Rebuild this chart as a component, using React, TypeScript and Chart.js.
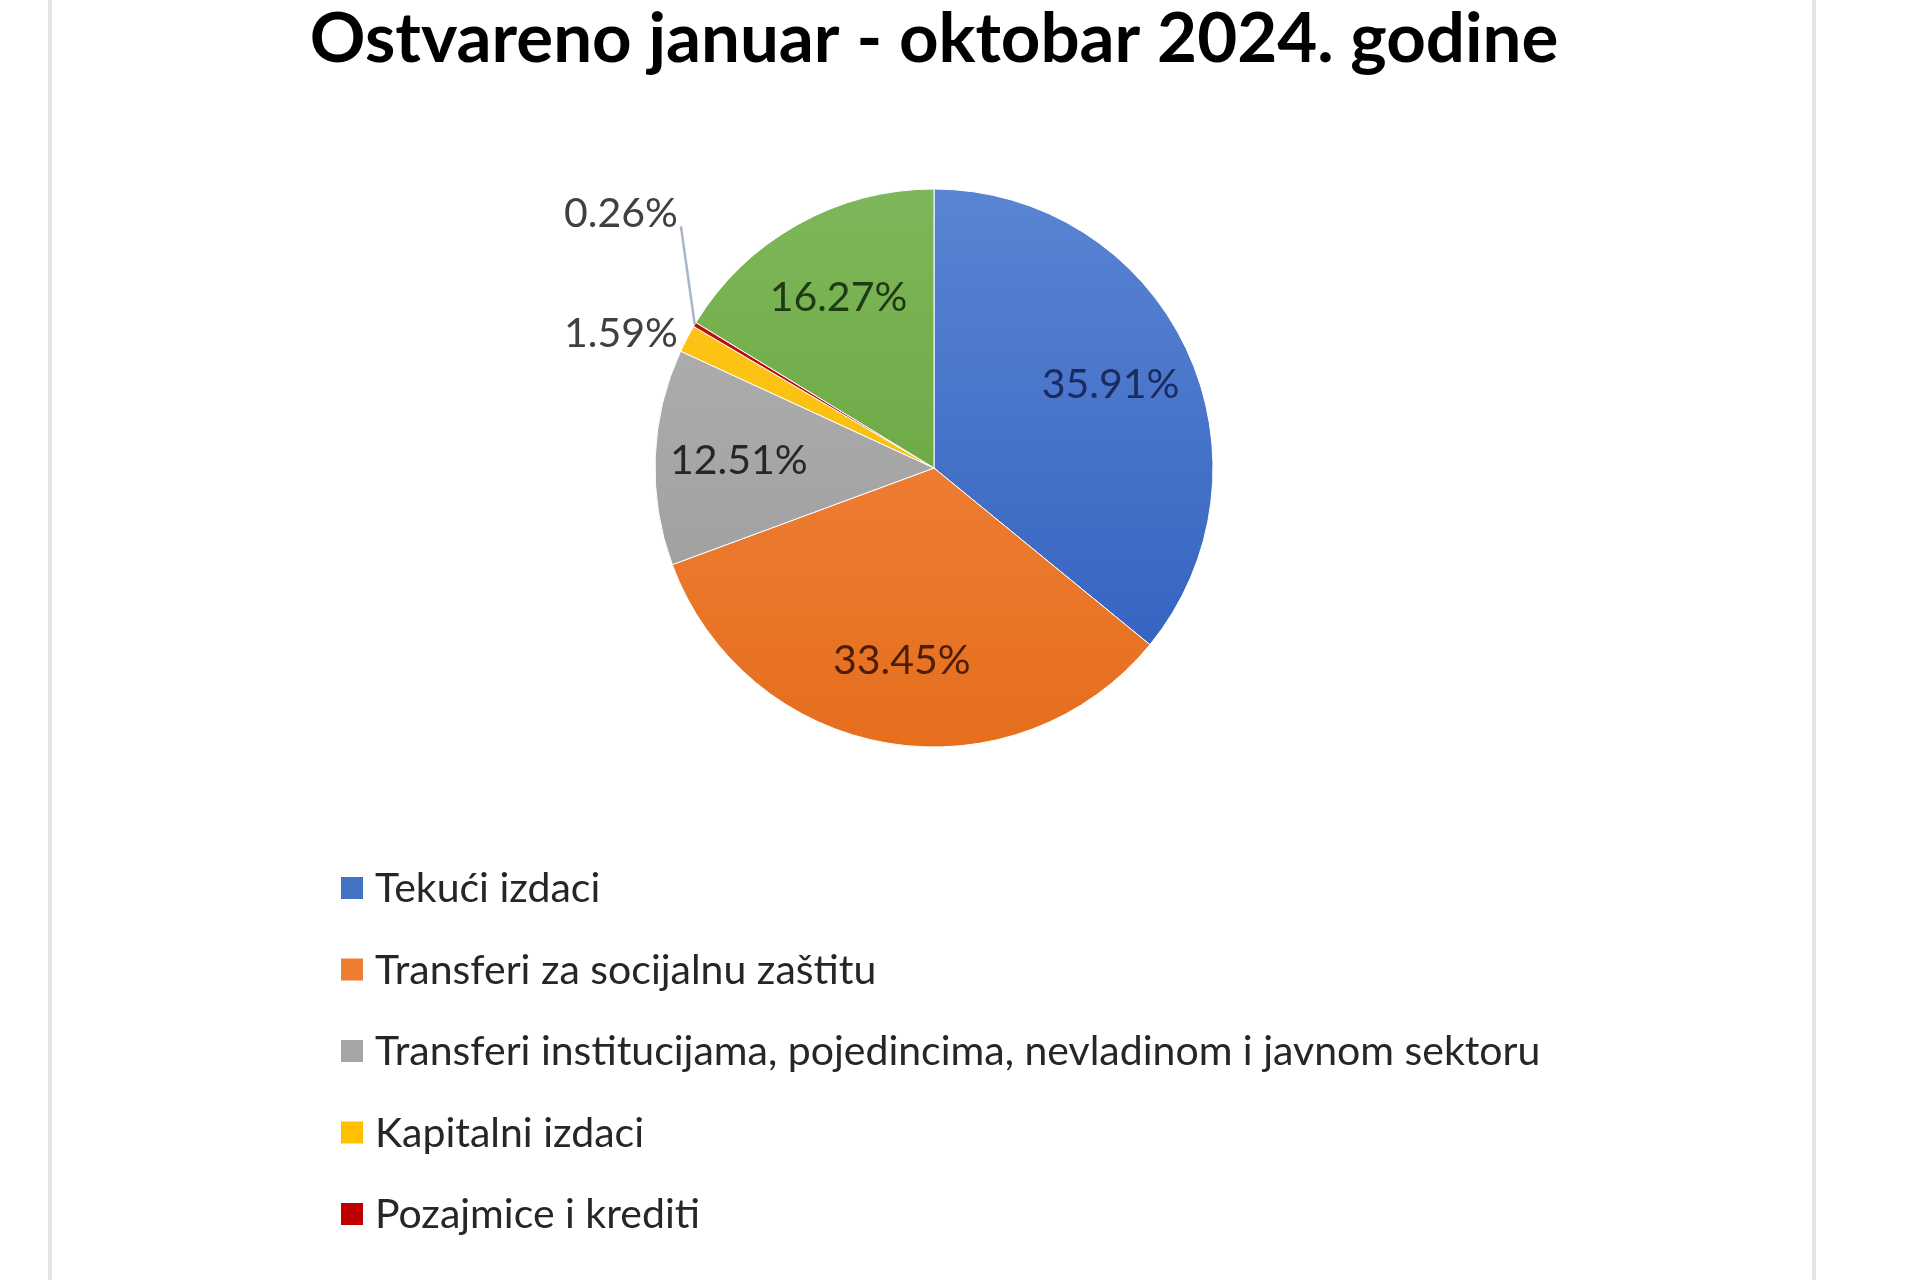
import React, { useEffect, useRef } from "react";
import { Chart, registerables } from "chart.js";

Chart.register(...registerables);

const TITLE = "Ostvareno januar - oktobar 2024. godine";

const categories = [
  "Tekući izdaci",
  "Transferi za socijalnu zaštitu",
  "Transferi institucijama, pojedincima, nevladinom i javnom sektoru",
  "Kapitalni izdaci",
  "Pozajmice i krediti",
  "Otplata duga",
];

const shares = [35.91, 33.45, 12.51, 1.59, 0.26, 16.27];

const sliceColors = ["#4472C4", "#ED7D31", "#A5A5A5", "#FFC000", "#C00000", "#70AD47"];
const sliceLight = ["#5A84D3", "#F38B47", "#B4B4B4", "#FFC81E", "#C81212", "#7EB75A"];
const sliceDark = ["#2E5DBD", "#E66E1D", "#989898", "#F5B700", "#A80000", "#5F9F33"];
const labelColors = ["#1B2B5E", "#4D1D06", "#262626", "#404040", "#404040", "#1E3A12"];

const FONT = "Lato, 'Open Sans', sans-serif";

const sliceLabels = {
  id: "sliceLabels",
  afterDatasetsDraw(chart: any, _args: any, opts: any) {
    const ctx = chart.ctx;
    const meta = chart.getDatasetMeta(0);
    const data = chart.data.datasets[0].data as number[];
    ctx.save();
    ctx.font = `${opts.size}px ${FONT}`;
    let prevOutside: { right: number; mid: number } | null = null;
    meta.data.forEach((arc: any, i: number) => {
      const p = arc.getProps(["x", "y", "startAngle", "endAngle", "outerRadius"], true);
      const mid = (p.startAngle + p.endAngle) / 2;
      const cos = Math.cos(mid);
      const sin = Math.sin(mid);
      const text = data[i].toFixed(2) + "%";
      ctx.fillStyle = labelColors[i];
      ctx.textBaseline = "middle";
      if (data[i] >= opts.minInside) {
        const r = p.outerRadius * opts.insideFrac;
        ctx.textAlign = "center";
        ctx.fillText(text, p.x + cos * r, p.y + sin * r);
      } else {
        const r = p.outerRadius + opts.outsideGap;
        let lx = p.x + cos * r;
        let ly = p.y + sin * r;
        ctx.textAlign = "right";
        if (prevOutside && Math.abs(prevOutside.mid - ly) < opts.size * 1.2) {
          lx = prevOutside.right;
          ly = prevOutside.mid - opts.stackStep;
          const ex = p.x + cos * p.outerRadius;
          const ey = p.y + sin * p.outerRadius;
          ctx.strokeStyle = opts.leaderColor;
          ctx.lineWidth = 2.5;
          ctx.beginPath();
          ctx.moveTo(ex, ey);
          ctx.lineTo(lx + 3, ly + opts.size * 0.3);
          ctx.stroke();
        }
        ctx.fillText(text, lx, ly);
        prevOutside = { right: lx, mid: ly };
      }
    });
    ctx.restore();
  },
};

const listLegend = {
  id: "listLegend",
  afterDraw(chart: any, _args: any, opts: any) {
    const ctx = chart.ctx;
    const labels = chart.data.labels as string[];
    ctx.save();
    ctx.font = `${opts.size}px ${FONT}`;
    ctx.textAlign = "left";
    ctx.textBaseline = "middle";
    labels.forEach((label, i) => {
      const cy = opts.top + i * opts.step;
      ctx.fillStyle = sliceColors[i];
      ctx.fillRect(opts.left, cy - opts.box / 2, opts.box, opts.box);
      ctx.fillStyle = opts.color;
      ctx.fillText(label, opts.left + opts.box + opts.gap, cy + 1);
    });
    ctx.restore();
  },
};

export default function App() {
  const canvasRef = useRef<HTMLCanvasElement | null>(null);

  useEffect(() => {
    if (!canvasRef.current) return;
    const chart = new Chart(canvasRef.current, {
      type: "pie",
      data: {
        labels: categories,
        datasets: [
          {
            data: shares,
            radius: 279,
            borderColor: "#ffffff",
            borderWidth: 1,
            backgroundColor: (c: any) => {
              const i = c.dataIndex;
              const area = c.chart.chartArea;
              if (!area) return sliceColors[i];
              const g = c.chart.ctx.createLinearGradient(0, area.top, 0, area.bottom);
              g.addColorStop(0, sliceLight[i]);
              g.addColorStop(1, sliceDark[i]);
              return g;
            },
          },
        ],
      },
      options: {
        animation: false,
        responsive: true,
        maintainAspectRatio: false,
        layout: { padding: { left: 0, right: 52, top: 0, bottom: 533 } },
        plugins: {
          legend: { display: false },
          tooltip: { enabled: false },
          title: {
            display: true,
            text: TITLE,
            color: "#000000",
            font: { family: FONT, weight: "bold", size: 69, lineHeight: 1.1 },
            padding: { top: 2, bottom: 111.1 },
          },
          sliceLabels: {
            size: 41,
            minInside: 5,
            insideFrac: 0.7,
            outsideGap: 10,
            stackStep: 120,
            leaderColor: "#A9B6C9",
          },
          listLegend: {
            left: 341,
            top: 888,
            step: 81.5,
            box: 22,
            gap: 12,
            size: 41,
            color: "#262626",
          },
        } as any,
      },
      plugins: [sliceLabels, listLegend],
    });
    return () => chart.destroy();
  }, []);

  return (
    <div
      style={{
        position: "fixed",
        left: 0,
        top: 0,
        width: 1920,
        height: 1280,
        background: "#ffffff",
        overflow: "hidden",
      }}
    >
      <div style={{ position: "absolute", left: 48, top: 0, width: 4, height: 1280, background: "#e3e3e6" }} />
      <div style={{ position: "absolute", left: 1812, top: 0, width: 4, height: 1280, background: "#e3e3e8" }} />
      <div style={{ position: "absolute", left: 0, top: 0, width: 1920, height: 1280 }}>
        <canvas ref={canvasRef} />
      </div>
    </div>
  );
}
